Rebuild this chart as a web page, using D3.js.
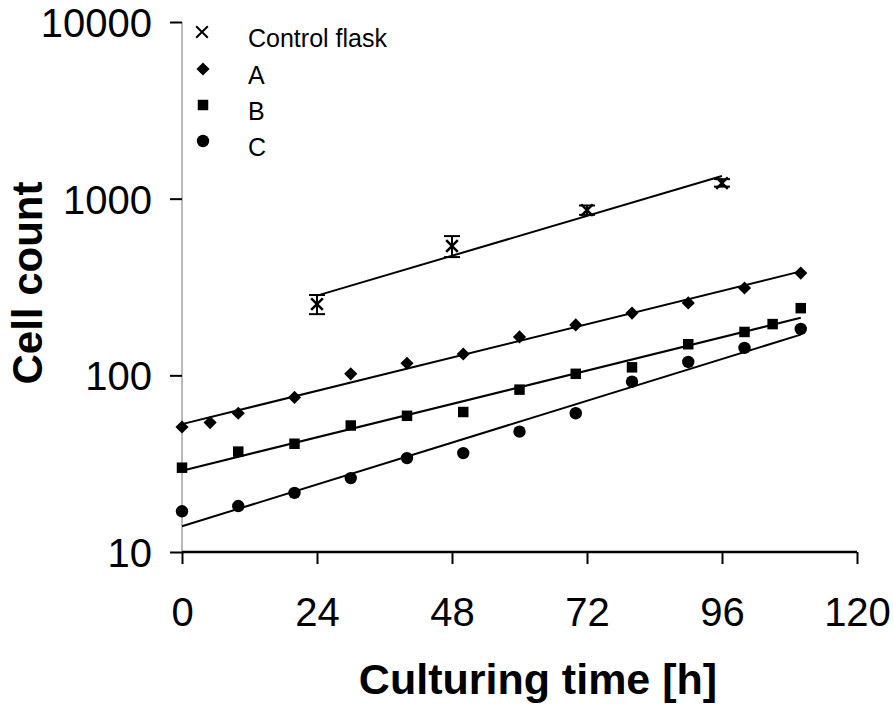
<!DOCTYPE html>
<html>
<head>
<meta charset="utf-8">
<script src="https://cdn.jsdelivr.net/npm/d3@7/dist/d3.min.js"></script>
<style>
  body { margin: 0; background: #fff; }
  text { font-family: "Liberation Sans", Arial, sans-serif; fill: #000; }
</style>
</head>
<body>
<svg id="chart" width="893" height="704"></svg>
<script>
// control flask (mean with error bars)
const ctrlHours = [24, 48, 72, 96];
const ctrlMean  = [253, 540, 861, 1225];
const ctrlLow   = [222, 467, 810, 1170];
const ctrlHigh  = [285, 614, 915, 1290];

// flasks A, B, C
const hoursA = [0, 5, 10, 20, 30, 40, 50, 60, 70, 80, 90, 100, 110];
const countA = [51, 54, 61, 75, 102, 117, 132, 165, 193, 225, 257, 312, 379];
const hoursB = [0, 10, 20, 30, 40, 50, 60, 70, 80, 90, 100, 105, 110];
const countB = [30, 37, 41, 52, 59, 62, 83, 102, 111, 150, 176, 195, 240];
const hoursC = [0, 10, 20, 30, 40, 50, 60, 70, 80, 90, 100, 110];
const countC = [17, 18.2, 21.6, 26.2, 34, 36.3, 48, 61, 92, 119, 143, 183];

const xTicks = [0, 24, 48, 72, 96, 120];
const yTicks = [10, 100, 1000, 10000];
const legendNames = ["Control flask", "A", "B", "C"];

const svg = d3.select("#chart");

const x = d3.scaleLinear().domain([0, 120]).range([182, 857]);
const y = d3.scaleLog().domain([10, 10000]).range([552, 22]);

// exponential trendline (least squares on log10 values), like a spreadsheet trendline
function expFit(ts, vs) {
  const ls = vs.map(v => Math.log10(v));
  const mt = d3.mean(ts), ml = d3.mean(ls);
  let num = 0, den = 0;
  ts.forEach((t, i) => { num += (t - mt) * (ls[i] - ml); den += (t - mt) * (t - mt); });
  const b = num / den, a = ml - b * mt;
  const t0 = d3.min(ts), t1 = d3.max(ts);
  return [t0, t1].map(t => [t, Math.pow(10, a + b * t)]);
}

const line = d3.line().x(d => x(d[0])).y(d => y(d[1]));

// axes
const yAxis = svg.append("g")
  .attr("transform", "translate(182,0)")
  .call(d3.axisLeft(y).tickValues(yTicks).tickFormat(d3.format("d")).tickSize(12).tickPadding(18));
yAxis.select(".domain").attr("stroke", "#777").attr("stroke-width", 1).attr("d", "M0,22V552");
yAxis.selectAll(".tick line").attr("stroke", "#000").attr("stroke-width", 2);
yAxis.selectAll(".tick text").style("font-size", "40px").attr("dy", "0.36em");

const xAxis = svg.append("g")
  .attr("transform", "translate(0,552)")
  .call(d3.axisBottom(x).tickValues(xTicks).tickSize(12).tickPadding(34));
xAxis.select(".domain").attr("stroke", "#000").attr("stroke-width", 2.5).attr("d", "M182,0H857");
xAxis.selectAll(".tick line").attr("stroke", "#000").attr("stroke-width", 2);
xAxis.selectAll(".tick text").style("font-size", "40px");

// axis titles
svg.append("text")
  .attr("x", 538).attr("y", 694)
  .attr("text-anchor", "middle")
  .style("font-size", "43px").style("font-weight", "bold")
  .text("Culturing time [h]");
svg.append("text")
  .attr("transform", "translate(42,283) rotate(-90)")
  .attr("text-anchor", "middle")
  .style("font-size", "42px").style("font-weight", "bold")
  .text("Cell count");

// trend lines
const fits = [
  expFit(ctrlHours, ctrlMean),
  expFit(hoursA, countA),
  expFit(hoursB, countB),
  expFit(hoursC, countC)
];
svg.append("g").selectAll("path").data(fits).join("path")
  .attr("d", line).attr("fill", "none").attr("stroke", "#000").attr("stroke-width", 2);

// markers
const diamond = d3.symbol().type(d3.symbolDiamond2).size(110);
const square = d3.symbol().type(d3.symbolSquare).size(110);
const cross = d3.symbol().type(d3.symbolX).size(90);

function drawMarkers(ts, vs, kind) {
  const g = svg.append("g");
  const data = ts.map((t, i) => [t, vs[i]]);
  if (kind === "circle") {
    g.selectAll("circle").data(data).join("circle")
      .attr("cx", d => x(d[0])).attr("cy", d => y(d[1])).attr("r", 6.2).attr("fill", "#000");
  } else {
    g.selectAll("path").data(data).join("path")
      .attr("transform", d => `translate(${x(d[0])},${y(d[1])})`)
      .attr("d", kind === "diamond" ? diamond : square)
      .attr("fill", "#000");
  }
}

// control: error bars + crosses
const eb = svg.append("g").attr("stroke", "#000").attr("stroke-width", 2).attr("fill", "none");
ctrlHours.forEach((t, i) => {
  const cx = x(t);
  eb.append("line").attr("x1", cx).attr("x2", cx).attr("y1", y(ctrlLow[i])).attr("y2", y(ctrlHigh[i]));
  eb.append("line").attr("x1", cx - 8).attr("x2", cx + 8).attr("y1", y(ctrlLow[i])).attr("y2", y(ctrlLow[i]));
  eb.append("line").attr("x1", cx - 8).attr("x2", cx + 8).attr("y1", y(ctrlHigh[i])).attr("y2", y(ctrlHigh[i]));
  eb.append("path").attr("transform", `translate(${cx},${y(ctrlMean[i])})`).attr("d", cross)
    .attr("stroke-width", 2.5);
});

drawMarkers(hoursA, countA, "diamond");
drawMarkers(hoursB, countB, "square");
drawMarkers(hoursC, countC, "circle");

// legend
const legendY = [32, 69, 105, 141];
const lg = svg.append("g");
legendNames.forEach((name, i) => {
  const my = legendY[i];
  if (i === 0) {
    lg.append("path").attr("transform", `translate(202,${my})`).attr("d", cross)
      .attr("stroke", "#000").attr("stroke-width", 2).attr("fill", "none");
  } else if (i === 1) {
    lg.append("path").attr("transform", `translate(203,${my})`).attr("d", diamond).attr("fill", "#000");
  } else if (i === 2) {
    lg.append("path").attr("transform", `translate(203,${my})`).attr("d", square).attr("fill", "#000");
  } else {
    lg.append("circle").attr("cx", 203).attr("cy", my).attr("r", 6.2).attr("fill", "#000");
  }
  lg.append("text").attr("x", 248).attr("y", my + 15)
    .style("font-size", "25px").text(name);
});
</script>
</body>
</html>
